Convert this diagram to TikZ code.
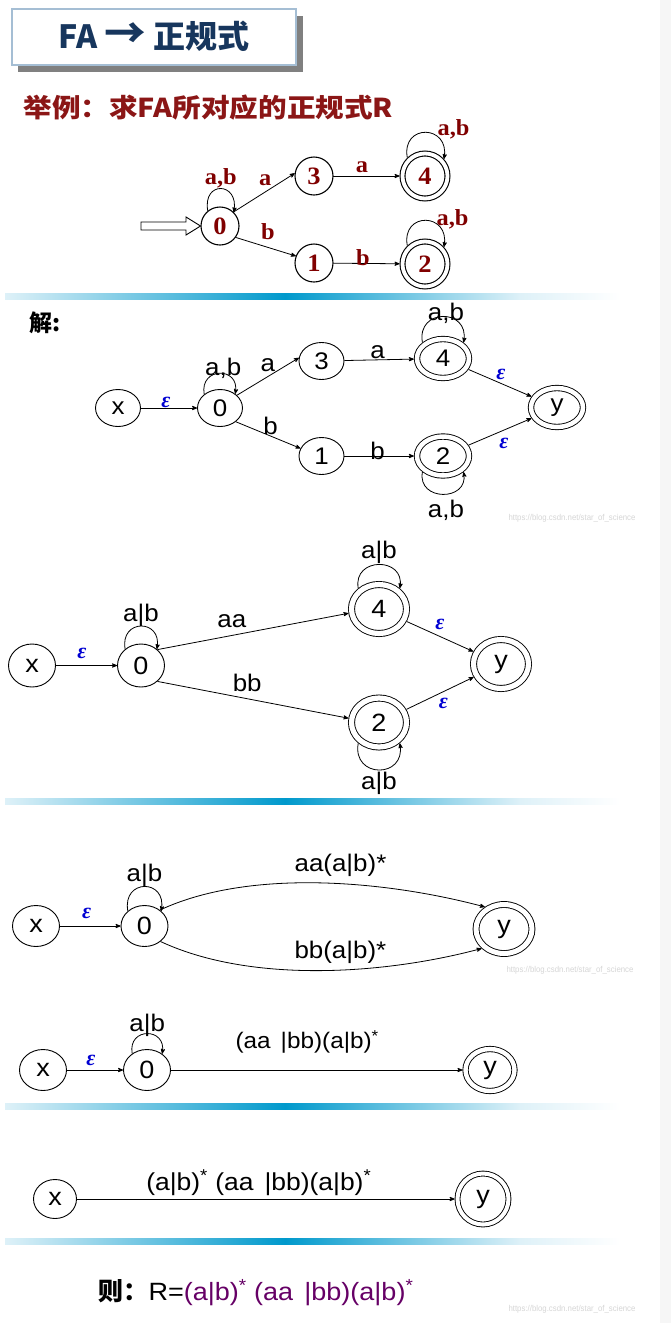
\documentclass[tikz,border=0pt]{standalone}
\usepackage{fontspec}
\setmainfont{Liberation Sans}[FakeStretch=1.08]
\newfontfamily\cjk{Noto Sans CJK SC}
\newfontfamily\cjkwide{Noto Sans CJK SC}[FakeStretch=1.1]
\newfontfamily\faserif{Liberation Serif}[FakeStretch=1.06]
\newfontfamily\epsserif{Liberation Serif}
\newfontfamily\marksans{Liberation Sans}[FakeStretch=0.92]
\usetikzlibrary{arrows, shapes.geometric}

\definecolor{titleblue}{RGB}{23,54,93}
\definecolor{frameblue}{RGB}{165,190,212}
\definecolor{shadowgray}{RGB}{128,128,128}
\definecolor{fared}{RGB}{128,0,0}
\definecolor{subred}{RGB}{139,22,22}
\definecolor{epsblue}{RGB}{0,0,210}
\definecolor{respurple}{RGB}{102,0,102}
\definecolor{barblue}{RGB}{0,153,204}
\definecolor{barlight}{RGB}{222,241,248}
\definecolor{markgray}{RGB}{214,214,214}

\newcommand{\fsize}[1]{\fontsize{#1}{#1}\selectfont}
\newcommand{\eps}{{\epsserif\bfseries\itshape ε}}
\newcommand{\sstar}{\textsuperscript{*}}

\begin{document}
\begin{tikzpicture}[
      x=1pt, y=1pt,
      >=stealth',
      state node/.style={ellipse, draw, line width=0.9pt, inner sep=0pt, outer sep=0.45pt},
      fa node/.style={state node, line width=1.1pt, minimum width=38pt, minimum height=38pt, font=\faserif\bfseries\fsize{25}, text=fared},
      fa final/.style={fa node, minimum width=45pt, minimum height=45pt, double, double distance=3.8pt, outer sep=3pt},
      fa label/.style={font=\faserif\bfseries\fsize{23}, text=fared, inner sep=0pt},
      b node/.style={state node, minimum width=45pt, minimum height=37pt, font=\fsize{24}},
      b final/.style={b node, minimum width=52pt, minimum height=39pt, double, double distance=4.5pt, outer sep=3.2pt},
      c node/.style={state node, minimum width=47pt, minimum height=43pt, font=\fsize{25}},
      c final/.style={c node, minimum width=55pt, minimum height=49pt, double, double distance=5.2pt, outer sep=3.5pt},
      d node/.style={state node, minimum width=47pt, minimum height=41pt, font=\fsize{25}},
      d final/.style={d node, minimum width=56pt, minimum height=49pt, double, double distance=5pt, outer sep=3.4pt},
      e node/.style={state node, minimum width=47pt, minimum height=41pt, font=\fsize{25}},
      e final/.style={e node, minimum width=49pt, minimum height=42pt, double, double distance=4.4pt, outer sep=3.1pt},
      f node/.style={state node, minimum width=43pt, minimum height=39pt, font=\fsize{25}},
      f final/.style={f node, minimum width=51pt, minimum height=51pt, double, double distance=4pt, outer sep=2.9pt},
      move link/.style={->, line width=0.8pt},
      edge label/.style={font=\fsize{24}, inner sep=0pt},
      eps label/.style={font=\fsize{22}, text=epsblue, inner sep=0pt},
      watermark/.style={anchor=west, font=\marksans\fsize{8.5}, text=markgray}
      ]
      % page
      \useasboundingbox (0,0) rectangle (671,-1323);
      \fill [white] (0,0) rectangle (671,-1323);
      \fill [gray!7] (660,0) rectangle (671,-1323);
      % title
      \fill [shadowgray] (18,-16) rectangle (303,-72);
      \draw [frameblue, line width=1.5pt, fill=white] (12,-9) rectangle (296,-65);
      \node [font=\cjk\bfseries\fsize{32}, text=titleblue] (title) at (154,-36) {FA \scalebox{1.3}{→} 正规式};
      \node [anchor=west, font=\cjkwide\bfseries\fsize{26}, text=subred] (subtitle) at (20,-108) {举例：求FA所对应的正规式R};
      % separators
      \foreach \y in {296.5,801,1106.5,1241.5} {
          \shade [left color=barlight, right color=barblue] (5,-\y+3) rectangle (285,-\y-3);
          \shade [left color=barblue, right color=barlight] (285,-\y+3) rectangle (520,-\y-3);
          \shade [left color=barlight, right color=white] (520,-\y+3) rectangle (620,-\y-3);
      }
      % --- FA
      \node [fa node] (A0) at (220,-226) {0};
      \node [fa node] (A3) at (314,-176) {3};
      \node [fa final] (A4) at (425,-176) {4};
      \node [fa node] (A1) at (314,-263) {1};
      \node [fa final] (A2) at (425,-264) {2};
      % start arrow
      \draw [line width=0.9pt, fill=white] (141,-222) -- (186,-222) -- (186,-217) -- (A0.west) -- (186,-235) -- (186,-230) -- (141,-230) -- cycle;
      \draw [move link] (A0.129) to [out=100, in=80, distance=31pt] node [fa label, above, inner sep=0.5pt] (A00 lab) {a,b} (A0.45);
      \draw [move link] (A0.46) -- node [fa label, midway, xshift=1pt, yshift=12.5pt] (A03 lab) {a} (A3.172);
      \draw [move link] (A0.-36) -- node [fa label, midway, xshift=2pt, yshift=15pt] (A01 lab) {b} (A1.159);
      \draw [move link] (A3) -- node [fa label, midway, xshift=-4.5pt, yshift=9pt] (A34 lab) {a} (A4);
      \draw [move link] (A1) -- node [fa label, midway, xshift=-3.5pt, yshift=6pt] (A12 lab) {b} (A2);
      \draw [move link] (A4.134) to [out=100, in=80, distance=35pt] node [fa label, xshift=28pt, yshift=3pt] (A44 lab) {a,b} (A4.42);
      \draw [move link] (A2.134) to [out=100, in=80, distance=35pt] node [fa label, xshift=27pt, yshift=1pt] (A22 lab) {a,b} (A2.42);
      % --- solution
      \node [anchor=west, font=\cjk\bfseries\fsize{23}] (sol) at (26,-323) {解:};
      \node [b node] (Bx) at (118,-408) {x};
      \node [b node] (B0) at (220,-408) {0};
      \node [b node] (B3) at (321.5,-361) {3};
      \node [b node] (B1) at (321.5,-456) {1};
      \node [b final] (B4) at (443,-358.5) {4};
      \node [b final] (B2) at (443,-456) {2};
      \node [b final] (By) at (557,-407.5) {y};
      \draw [move link] (Bx) -- node [eps label, midway, xshift=-3pt, yshift=6pt] (Bx0 lab) {\eps} (B0);
      \draw [move link] (B0.139) to [out=100, in=80, distance=28pt] node [edge label, xshift=3.5pt, yshift=5.5pt] (B00 lab) {a,b} (B0.43);
      \draw [move link] (B0.37) -- node [edge label, midway, yshift=11.5pt] (B03 lab) {a} (B3.172);
      \draw [move link] (B0.-41) -- node [edge label, midway, xshift=2.5pt, yshift=9.5pt] (B01 lab) {b} (B1.160);
      \draw [move link] (B3) -- node [edge label, midway, xshift=-1.5pt, yshift=8pt] (B34 lab) {a} (B4);
      \draw [move link] (B1) -- node [edge label, midway, xshift=-1.5pt, yshift=5pt] (B12 lab) {b} (B2);
      \draw [move link] (B4.142) to [out=100, in=80, distance=35pt] node [edge label, xshift=3pt, yshift=3pt] (B44 lab) {a,b} (B4.38);
      \draw [move link] (B2.218) to [out=260, in=280, distance=30pt] node [edge label, xshift=3pt, yshift=-16pt] (B22 lab) {a,b} (B2.322);
      \draw [move link] (B4) -- node [eps label, midway, xshift=1pt, yshift=8.5pt] (B4y lab) {\eps} (By);
      \draw [move link] (B2) -- node [eps label, midway, xshift=4pt, yshift=-11.5pt] (B2y lab) {\eps} (By);
      % --- merged a, b
      \node [c node] (Cx) at (32,-665.5) {x};
      \node [c node] (C0) at (141,-665.5) {0};
      \node [c final] (C4) at (379,-609) {4};
      \node [c final] (C2) at (379,-722.5) {2};
      \node [c final] (Cy) at (501,-664) {y};
      \draw [move link] (Cx) -- node [eps label, midway, xshift=-4.5pt, yshift=12.5pt] (Cx0 lab) {\eps} (C0);
      \draw [move link] (C0.134) to [out=100, in=80, distance=31pt] node [edge label, yshift=11pt] (C00 lab) {a|b} (C0.46);
      \draw [move link] (C0.44) -- node [edge label, pos=0.4, xshift=-2pt, yshift=14pt] (C04 lab) {aa} (C4.188);
      \draw [move link] (C0.-44) -- node [edge label, pos=0.47, yshift=16pt] (C02 lab) {bb} (C2.172);
      \draw [move link] (C4.135) to [out=100, in=80, distance=32pt] node [edge label, yshift=12pt] (C44 lab) {a|b} (C4.45);
      \draw [move link] (C2.225) to [out=260, in=280, distance=36pt] node [edge label, yshift=-13pt] (C22 lab) {a|b} (C2.315);
      \draw [move link] (C4) -- node [eps label, midway, yshift=12pt] (C4y lab) {\eps} (Cy);
      \draw [move link] (C2) -- node [eps label, midway, xshift=3.5pt, yshift=-10.5pt] (C2y lab) {\eps} (Cy);
      % --- two paths to y
      \node [d node] (Dx) at (36,-926) {x};
      \node [d node] (D0) at (144.5,-926) {0};
      \node [d final] (Dy) at (504,-929) {y};
      \draw [move link] (Dx) -- node [eps label, midway, xshift=-3.5pt, yshift=13pt] (Dx0 lab) {\eps} (D0);
      \draw [move link] (D0.138) to [out=100, in=80, distance=33pt] node [edge label, yshift=11pt] (D00 lab) {a|b} (D0.42);
      \draw [move link] (D0.46) to [out=25, in=165, distance=100pt] node [edge label, pos=0.55, xshift=3pt, yshift=18pt] (D0ya lab) {aa(a|b)*} (Dy.131);
      \draw [move link] (D0.-44) to [out=-25, in=195, distance=100pt] node [edge label, pos=0.55, xshift=4.5pt, yshift=18pt] (D0yb lab) {bb(a|b)*} (Dy.221);
      % --- one path to y
      \node [e node] (Ex) at (43,-1070) {x};
      \node [e node] (E0) at (147,-1070) {0};
      \node [e final] (Ey) at (490,-1070) {y};
      \draw [move link] (Ex) -- node [eps label, midway, xshift=-4pt, yshift=10pt] (Ex0 lab) {\eps} (E0);
      \draw [move link] (E0.132) to [out=100, in=80, distance=27pt] node [edge label, yshift=8.5pt] (E00 lab) {a|b} (E0.47);
      \draw [move link] (E0) -- node [edge label, midway, font=\fsize{22.5}, xshift=-9.5pt, yshift=28pt] (E0y lab) {(aa\hspace{0.45em}|bb)(a|b)\sstar} (Ey);
      % --- x to y
      \node [f node] (Fx) at (55,-1199) {x};
      \node [f final] (Fy) at (483,-1199) {y};
      \draw [move link] (Fx) -- node [edge label, midway, font=\fsize{24.5}, xshift=-7pt, yshift=16pt] (Fxy lab) {(a|b)\sstar\ (aa\hspace{0.45em}|bb)(a|b)\sstar} (Fy);
      % result
      \node [anchor=west, font=\fsize{25}] (result) at (95,-1293) {{\cjk\bfseries 则：}R={\color{respurple}(a|b)\sstar\ (aa\hspace{0.45em}|bb)(a|b)\sstar}};
      % watermarks
      \node [watermark] (mark1) at (505,-518) {https://blog.csdn.net/star\_of\_science};
      \node [watermark] (mark2) at (503,-970) {https://blog.csdn.net/star\_of\_science};
      \node [watermark] (mark3) at (505,-1309) {https://blog.csdn.net/star\_of\_science};
\end{tikzpicture}
\end{document}
